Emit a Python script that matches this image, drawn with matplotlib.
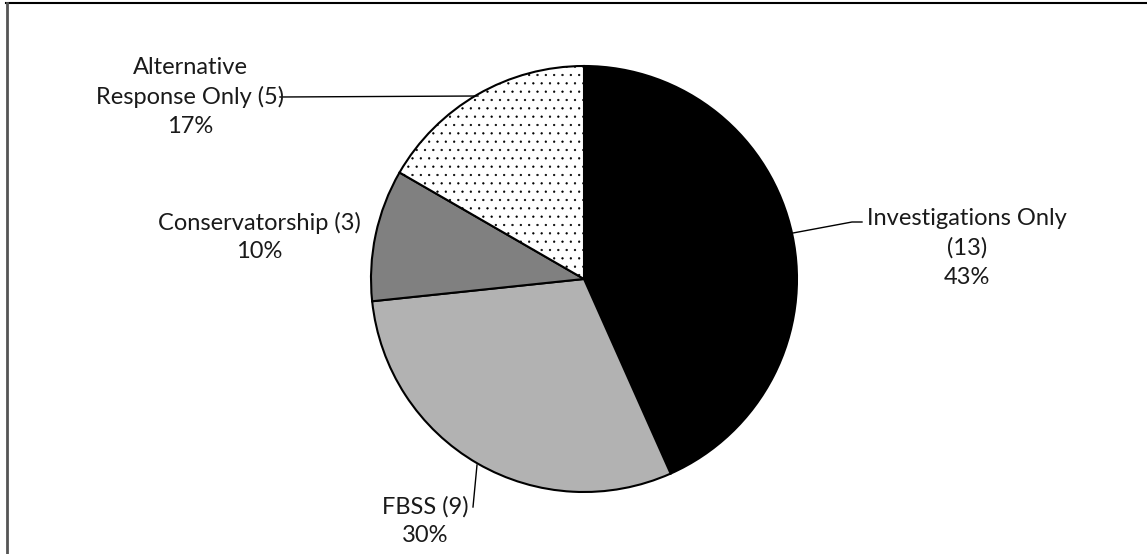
import matplotlib.pyplot as plt

# Dane wykresu
categories = ["Investigations Only", "FBSS", "Conservatorship", "Alternative Response Only"]
counts = [13, 9, 3, 5]
labels = ["Investigations Only\n(13)\n43%", "FBSS (9)\n30%",
          "Conservatorship (3)\n10%", "Alternative\nResponse Only (5)\n17%"]

W, H = 1147, 554
fig = plt.figure(figsize=(W / 100, H / 100), dpi=100)
ax = fig.add_axes([0, 0, 1, 1])
ax.set_xlim(0, W)
ax.set_ylim(0, H)
ax.set_aspect("equal")
ax.axis("off")

plt.rcParams["hatch.linewidth"] = 0.4
wedges, _ = ax.pie(counts, startangle=90, counterclock=False,
                   center=(584, H - 279), radius=213,
                   colors=["black", "#b2b2b2", "#808080", "white"],
                   wedgeprops=dict(edgecolor="black", linewidth=1.5))
wedges[3].set_hatch("..")
ax.set_xlim(0, W)
ax.set_ylim(0, H)

font = dict(family="Lato", fontsize=17, color="#1a1a1a",
            ha="center", va="center", linespacing=1.45)
ax.text(967, H - 248, labels[0], **font)
ax.text(425, H - 521, labels[1], **font)
ax.text(259, H - 237, labels[2], **font)
ax.text(190, H - 97, labels[3], **font)

# Linie odniesienia
ax.plot([280, 478], [H - 97, H - 96], color="black", lw=1)
ax.plot([793, 852, 862], [H - 233, H - 222, H - 222], color="black", lw=1)
ax.plot([477, 473], [H - 465, H - 507], color="black", lw=1)

# Ramka
ax.plot([6, W], [H - 3, H - 3], color="black", lw=1.5)
ax.plot([6.5, 6.5], [0, H - 3], color="#555555", lw=2)

fig.savefig("out.png", dpi=100)
